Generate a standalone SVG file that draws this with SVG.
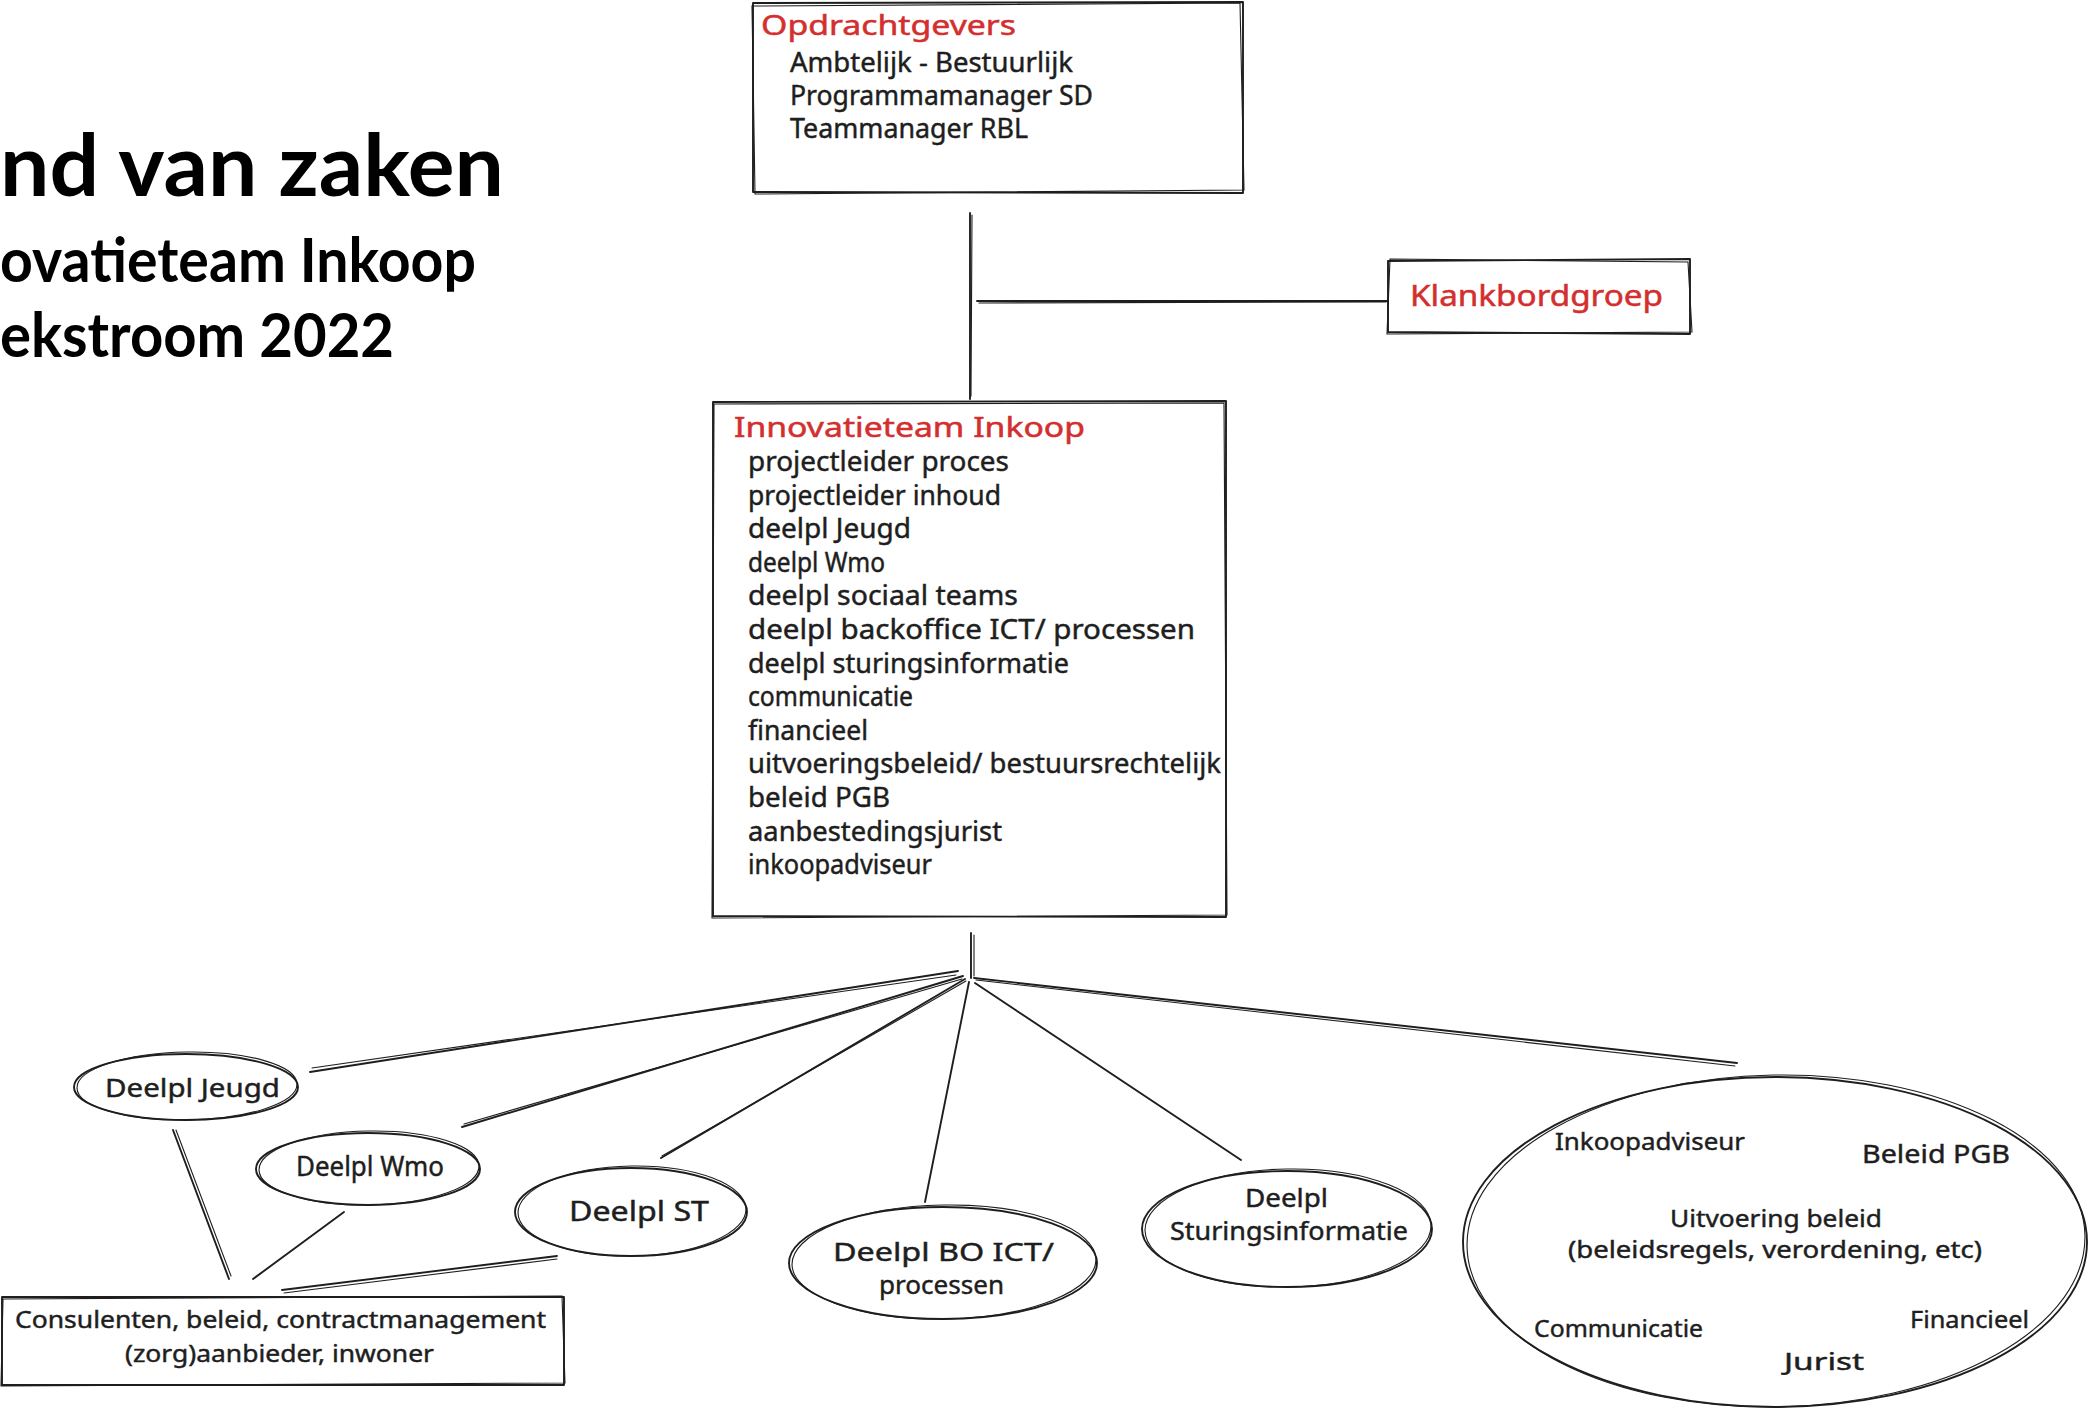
<svg xmlns="http://www.w3.org/2000/svg" width="2089" height="1408" viewBox="0 0 2089 1408">
<style>
.s{fill:none;stroke:#1e1e1e;stroke-width:1.9;stroke-linecap:round;stroke-linejoin:round}
.t{fill:none;stroke:#1e1e1e;stroke-width:1.1;stroke-linecap:round}
.h{font-family:"Noto Sans","DejaVu Sans",sans-serif;fill:#1e1e1e;stroke:#1e1e1e;stroke-width:0.45}
.r{font-family:"Noto Sans","DejaVu Sans",sans-serif;fill:#d32f2f;stroke:#d32f2f;stroke-width:0.5}
.ti{font-family:Lato,"Open Sans",sans-serif;font-weight:bold;fill:#000}
</style>
<rect width="2089" height="1408" fill="#fff"/>

<g id="title">
<text class="ti" x="0" y="196" font-size="86" textLength="504" lengthAdjust="spacingAndGlyphs">nd van zaken</text>
<text class="ti" x="0" y="282" font-size="62" textLength="476" lengthAdjust="spacingAndGlyphs">ovatieteam Inkoop</text>
<text class="ti" x="0" y="357" font-size="62" textLength="394" lengthAdjust="spacingAndGlyphs">ekstroom 2022</text>
</g>

<g id="connectors">
<line class="s" x1="970" y1="213" x2="970" y2="399"/>
<line class="t" x1="972" y1="215" x2="971" y2="396"/>
<line class="s" x1="977" y1="301" x2="1388" y2="301"/>
<line class="t" x1="979" y1="303" x2="1386" y2="302"/>
<line class="s" x1="971" y1="933" x2="971" y2="978"/>
<line class="t" x1="974" y1="935" x2="974" y2="976"/>
<line class="s" x1="958" y1="971" x2="310" y2="1072"/>
<line class="t" x1="956" y1="975" x2="312" y2="1068"/>
<line class="s" x1="963" y1="976" x2="462" y2="1127"/>
<line class="t" x1="962" y1="979" x2="464" y2="1124"/>
<line class="s" x1="965" y1="979" x2="661" y2="1158"/>
<line class="t" x1="966" y1="981" x2="662" y2="1156"/>
<line class="s" x1="969" y1="982" x2="925" y2="1202"/>
<line class="s" x1="975" y1="983" x2="1241" y2="1160"/>
<line class="s" x1="974" y1="978" x2="1737" y2="1063"/>
<line class="t" x1="976" y1="980" x2="1735" y2="1066"/>
<line class="s" x1="173" y1="1130" x2="229" y2="1279"/>
<line class="t" x1="176" y1="1130" x2="231" y2="1276"/>
<line class="s" x1="344" y1="1212" x2="253" y2="1279"/>
<line class="s" x1="557" y1="1256" x2="282" y2="1290"/>
<line class="t" x1="557" y1="1259" x2="284" y2="1293"/>
</g>

<g id="opdrachtgevers">
<path class="s" d="M753,3 L1243,2 L1243,193 L753,192 Z"/>
<path class="t" d="M752,6 L1240,3 L1244,190 L755,194 Z"/>
<text class="r" x="761" y="35" font-size="28" textLength="255" lengthAdjust="spacingAndGlyphs">Opdrachtgevers</text>
<text class="h" x="790" y="72" font-size="27" textLength="283" lengthAdjust="spacingAndGlyphs">Ambtelijk - Bestuurlijk</text>
<text class="h" x="790" y="105" font-size="27" textLength="303" lengthAdjust="spacingAndGlyphs">Programmamanager SD</text>
<text class="h" x="790" y="138" font-size="27" textLength="238" lengthAdjust="spacingAndGlyphs">Teammanager RBL</text>
</g>

<g id="klankbordgroep">
<path class="s" d="M1388,261 L1690,259 L1690,334 L1388,332 Z"/>
<path class="t" d="M1390,259 L1688,262 L1692,332 L1387,334 Z"/>
<text class="r" x="1410" y="306" font-size="29" textLength="253" lengthAdjust="spacingAndGlyphs">Klankbordgroep</text>
</g>

<g id="innovatieteam">
<path class="s" d="M713,402 L1226,401 L1226,917 L713,916 Z"/>
<path class="t" d="M714,404 L1224,403 L1227,915 L712,918 Z"/>
<text class="r" x="734" y="437" font-size="28" textLength="351" lengthAdjust="spacingAndGlyphs">Innovatieteam Inkoop</text>
<text class="h" x="748" y="471" font-size="27" textLength="261" lengthAdjust="spacingAndGlyphs">projectleider proces</text>
<text class="h" x="748" y="505" font-size="27" textLength="253" lengthAdjust="spacingAndGlyphs">projectleider inhoud</text>
<text class="h" x="748" y="538" font-size="27" textLength="163" lengthAdjust="spacingAndGlyphs">deelpl Jeugd</text>
<text class="h" x="748" y="572" font-size="27" textLength="137" lengthAdjust="spacingAndGlyphs">deelpl Wmo</text>
<text class="h" x="748" y="605" font-size="27" textLength="270" lengthAdjust="spacingAndGlyphs">deelpl sociaal teams</text>
<text class="h" x="748" y="639" font-size="27" textLength="447" lengthAdjust="spacingAndGlyphs">deelpl backoffice ICT/ processen</text>
<text class="h" x="748" y="673" font-size="27" textLength="321" lengthAdjust="spacingAndGlyphs">deelpl sturingsinformatie</text>
<text class="h" x="748" y="706" font-size="27" textLength="165" lengthAdjust="spacingAndGlyphs">communicatie</text>
<text class="h" x="748" y="740" font-size="27" textLength="120" lengthAdjust="spacingAndGlyphs">financieel</text>
<text class="h" x="748" y="773" font-size="27" textLength="473" lengthAdjust="spacingAndGlyphs">uitvoeringsbeleid/ bestuursrechtelijk</text>
<text class="h" x="748" y="807" font-size="27" textLength="142" lengthAdjust="spacingAndGlyphs">beleid PGB</text>
<text class="h" x="748" y="841" font-size="27" textLength="254" lengthAdjust="spacingAndGlyphs">aanbestedingsjurist</text>
<text class="h" x="748" y="874" font-size="27" textLength="184" lengthAdjust="spacingAndGlyphs">inkoopadviseur</text>
</g>

<g id="deelpl-jeugd">
<ellipse class="s" cx="186" cy="1087" rx="112" ry="33"/>
<ellipse class="t" cx="187" cy="1086" rx="110" ry="34" transform="rotate(-1 187 1086)"/>
<text class="h" x="105" y="1097" font-size="26" textLength="175" lengthAdjust="spacingAndGlyphs">Deelpl Jeugd</text>
</g>

<g id="deelpl-wmo">
<ellipse class="s" cx="368" cy="1169" rx="112" ry="36"/>
<ellipse class="t" cx="369" cy="1168" rx="110" ry="37" transform="rotate(-1 369 1168)"/>
<text class="h" x="296" y="1176" font-size="27" textLength="148" lengthAdjust="spacingAndGlyphs">Deelpl Wmo</text>
</g>

<g id="deelpl-st">
<ellipse class="s" cx="631" cy="1212" rx="116" ry="44"/>
<ellipse class="t" cx="632" cy="1211" rx="114" ry="45" transform="rotate(-1 632 1211)"/>
<text class="h" x="569" y="1221" font-size="27" textLength="140" lengthAdjust="spacingAndGlyphs">Deelpl ST</text>
</g>

<g id="deelpl-bo-ict">
<ellipse class="s" cx="943" cy="1263" rx="154" ry="56"/>
<ellipse class="t" cx="944" cy="1262" rx="152" ry="57" transform="rotate(-1 944 1262)"/>
<text class="h" x="833" y="1261" font-size="26" textLength="221" lengthAdjust="spacingAndGlyphs">Deelpl BO ICT/</text>
<text class="h" x="879" y="1294" font-size="26" textLength="125" lengthAdjust="spacingAndGlyphs">processen</text>
</g>

<g id="deelpl-sturingsinformatie">
<ellipse class="s" cx="1287" cy="1229" rx="145" ry="58"/>
<ellipse class="t" cx="1288" cy="1228" rx="143" ry="59" transform="rotate(-1 1288 1228)"/>
<text class="h" x="1245" y="1207" font-size="26" textLength="83" lengthAdjust="spacingAndGlyphs">Deelpl</text>
<text class="h" x="1170" y="1240" font-size="25" textLength="238" lengthAdjust="spacingAndGlyphs">Sturingsinformatie</text>
</g>

<g id="consulenten">
<path class="s" d="M2,1297 L564,1297 L564,1385 L2,1385 Z"/>
<path class="t" d="M3,1299 L562,1296 L565,1383 L1,1386 Z"/>
<text class="h" x="15" y="1328" font-size="24" textLength="531" lengthAdjust="spacingAndGlyphs">Consulenten, beleid, contractmanagement</text>
<text class="h" x="125" y="1362" font-size="24" textLength="309" lengthAdjust="spacingAndGlyphs">(zorg)aanbieder, inwoner</text>
</g>

<g id="overige-rollen">
<ellipse class="s" cx="1775" cy="1242" rx="312" ry="165"/>
<ellipse class="t" cx="1776" cy="1241" rx="309" ry="166" transform="rotate(-1 1776 1241)"/>
<text class="h" x="1555" y="1150" font-size="24" textLength="190" lengthAdjust="spacingAndGlyphs">Inkoopadviseur</text>
<text class="h" x="1862" y="1163" font-size="26" textLength="148" lengthAdjust="spacingAndGlyphs">Beleid PGB</text>
<text class="h" x="1670" y="1227" font-size="24" textLength="212" lengthAdjust="spacingAndGlyphs">Uitvoering beleid</text>
<text class="h" x="1568" y="1258" font-size="24" textLength="414" lengthAdjust="spacingAndGlyphs">(beleidsregels, verordening, etc)</text>
<text class="h" x="1534" y="1337" font-size="24" textLength="169" lengthAdjust="spacingAndGlyphs">Communicatie</text>
<text class="h" x="1910" y="1328" font-size="24" textLength="119" lengthAdjust="spacingAndGlyphs">Financieel</text>
<text class="h" x="1784" y="1370" font-size="24" textLength="80" lengthAdjust="spacingAndGlyphs">Jurist</text>
</g>
</svg>
